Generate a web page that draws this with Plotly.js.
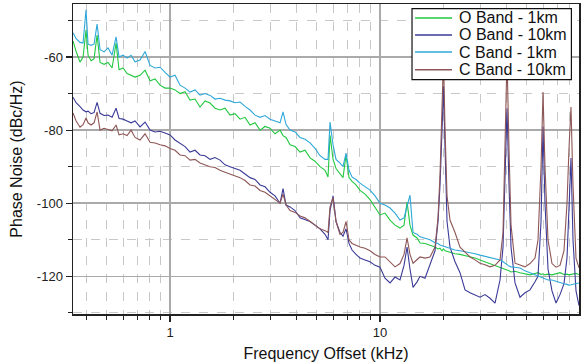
<!DOCTYPE html>
<html>
<head>
<meta charset="utf-8">
<script src="https://cdn.plot.ly/plotly-3.0.1.min.js"></script>
<style>html,body{margin:0;padding:0;background:#fff;}#chart{width:583px;height:362px;}</style>
</head>
<body>
<div id="chart"></div>
<script>
// Frequency offset (kHz)
const freqKHz = [
 0.345,0.357,0.3727,0.3852,0.398,0.4069,0.4206,0.4346,0.4493,0.4642,
 0.485,0.5068,0.5295,0.5533,0.5717,0.5974,0.6242,0.6522,0.6813,0.7197,
 0.7603,0.8032,0.8483,0.8962,0.9467,1,1.056,1.116,1.179,1.245,
 1.315,1.389,1.468,1.551,1.638,1.73,1.828,1.931,2.04,2.154,
 2.276,2.404,2.54,2.683,2.834,2.994,3.162,3.341,3.452,3.568,
 3.728,3.938,4.16,4.394,4.642,4.903,5.18,5.472,5.655,5.78,
 5.974,6.173,6.449,6.665,6.888,7.118,7.356,7.686,8.03,8.483,
 8.962,9.467,10,10.56,11.16,11.79,12.45,13.01,13.45,13.89,
 14.36,15.01,15.51,16.38,17.3,18.28,18.89,19.31,19.74,20.06,
 20.4,20.85,21.54,22.76,24.04,25.4,26.83,28.34,29.94,31.62,
 33.41,35.29,37.28,38.53,39.38,40.25,41.14,42.06,43.94,46.42,
 49.03,51.8,54.72,56.55,58.45,59.74,61.05,63.1,65.92,68.88,
 71.97,75.19,77.71,79.43,81.19,82.99,85.77,88.64
];

// Phase noise (dBc/Hz)
const oBand1km = [
 -55.6,-58.5,-61.4,-60,-52.6,-59.5,-61,-60.5,-54,-61.5,
 -62,-61.5,-63,-56.2,-63.5,-63,-64.5,-64.9,-65.5,-65,
 -63.6,-66.5,-66,-67.7,-68.5,-68.5,-69,-70,-69.5,-71.8,
 -71.5,-73.7,-72,-72.6,-74,-74.5,-74,-75.9,-75.5,-77,
 -76.5,-78.6,-78,-80,-79,-79.5,-81,-80,-81.5,-82,
 -84,-84.5,-86,-85.5,-87.6,-88.5,-90,-91,-92.8,-81.4,
 -88,-90.5,-92,-93,-86.8,-93,-94,-95,-96.5,-97.5,
 -99,-101,-103.2,-102.7,-104.6,-106,-106.8,-106,-99.7,-106,
 -108.7,-109.5,-110.9,-111,-111.4,-112,-112.5,-112.3,-113,-112.5,
 -113,-113.2,-113.4,-113.8,-114,-114.3,-114.7,-115,-115.5,-116,
 -116.4,-117,-117.4,-117.8,-118,-118.3,-118.5,-118.8,-118.6,-119,
 -119.3,-119.6,-119.2,-119,-119.5,-119.3,-119.6,-119.4,-119.6,-119.2,
 -119,-119.5,-119.4,-119.6,-119.5,-119.3,-119.2,-119.5
];
const oBand10km = [
 -71,-72.5,-73.6,-74.5,-75,-74.8,-75.5,-75.2,-72.4,-75.4,
 -76,-75.9,-76.5,-74,-76.8,-77,-77.5,-78,-77.5,-79.1,
 -77.8,-80,-80.5,-80.3,-80.8,-81.3,-82.7,-83.5,-84.5,-86,
 -85.5,-86.8,-87,-88,-87.5,-88.2,-89.5,-90,-90.5,-91,
 -92,-93,-93.5,-95,-95.5,-97,-98,-100,-96,-100.5,
 -101,-102,-104,-104.5,-105,-106,-107,-108.5,-110,-102,
 -98,-105,-108,-109,-107,-111,-112.8,-114,-115,-115.5,
 -116,-117,-117.5,-120.5,-121.8,-120.2,-121,-117,-112,-118,
 -123,-121.5,-120,-120.5,-117,-113,-105,-95,-80,-68,
 -85,-105,-112,-116,-119,-123.7,-124.5,-125,-125.7,-125,
 -126,-127.3,-121,-112,-95,-74,-95,-112,-121.8,-125.7,
 -124.5,-123.7,-121.5,-120,-105,-79,-100,-118,-124,-127.3,
 -125,-122,-115,-100,-87.6,-110,-124,-128
];
const cBand1km = [
 -53.4,-55,-56,-56.2,-47.1,-56.5,-56.8,-56.5,-51,-58,
 -58.6,-57.5,-59.5,-54.5,-60,-59.5,-60.3,-59.5,-61.3,-60.8,
 -58.5,-62.3,-63,-62.8,-64.2,-65.5,-65,-67.7,-68.5,-69.6,
 -69,-70.4,-70,-70.5,-71.5,-71.3,-71.8,-72,-72.5,-72.3,
 -73.5,-74.5,-75.9,-76.5,-76,-77,-77.5,-78,-75,-78.5,
 -80,-80.5,-82,-82.5,-83.5,-85,-87,-88,-88,-77.8,
 -84,-88,-89,-90,-86.3,-91,-92.8,-93.5,-94.5,-95.5,
 -96.4,-98,-100,-100.5,-101.3,-102.7,-104.6,-104,-101,-97.8,
 -108,-108.5,-109.2,-109.5,-110,-110.8,-111,-111.4,-111.6,-111.8,
 -112,-112,-112.3,-112.8,-113,-113.2,-113.4,-113.8,-114.2,-114.5,
 -114.8,-115.2,-115.5,-116,-116.5,-116.8,-117.2,-117.4,-117.5,-117.7,
 -118.5,-119,-119.5,-120,-120.2,-120.4,-120.6,-121,-121,-121.4,
 -121.8,-122,-122.2,-122.4,-122.3,-122.2,-121.9,-121.8
];
const cBand10km = [
 -75.3,-77.5,-79.2,-78.5,-76.7,-78,-78.6,-78,-75,-80,
 -79.5,-79.8,-80.2,-78.6,-81.3,-81,-81.5,-80,-82,-82.7,
 -81,-83.3,-83.5,-84,-84.3,-85,-85.5,-86.8,-87,-88.2,
 -88,-89,-89.5,-90,-90.2,-91,-91.5,-92,-92.3,-93,
 -93.8,-95,-95.3,-96.5,-97,-98,-99,-100,-97.5,-100.5,
 -102,-102.5,-103.5,-104,-105,-106,-107,-107.5,-108,-101,
 -98.5,-105,-108.5,-108,-105,-110,-111,-111.5,-112,-112.3,
 -113,-114,-114.7,-114.7,-116,-117.4,-116.5,-114,-109.5,-114,
 -116.4,-115.5,-114.7,-115,-114.7,-112,-104,-92,-75,-60,
 -80,-98,-104.6,-108,-112,-113.5,-114.7,-115.5,-116.4,-116.8,
 -117.4,-117,-115.5,-108,-85,-60,-85,-106,-116.4,-117,
 -117.4,-116.5,-115,-110,-90,-69.6,-90,-110,-116.5,-117.5,
 -117,-113,-100,-85,-73.7,-95,-115,-117.7
];

const seriesNames = ['O Band - 1km', 'O Band - 10km', 'C Band - 1km', 'C Band - 10km'];
const seriesValues = [oBand1km, oBand10km, cBand1km, cBand10km];
const xTickVals = [1, 10];
const xMinorVals = [0.4,0.5,0.6,0.7,0.8,0.9,2,3,4,5,6,7,8,9,20,30,40,50,60,70,80];
const yTickVals = [-120, -100, -80, -60];
const yMinorVals = [-130, -110, -90, -70, -50];

const colors = ['#22c840', '#3a3a98', '#2ea8d8', '#8e5656'];

const traces = seriesNames.map((name, i) => ({
  type: 'scatter', mode: 'lines', name: name,
  x: freqKHz, y: seriesValues[i],
  line: {color: colors[i], width: 1.1},
  showlegend: false, hoverinfo: 'skip'
}));

// manual legend (box, sample lines and labels) in paper coordinates
const shapes = [{
  type: 'rect', xref: 'paper', yref: 'paper',
  x0: 0.670, x1: 0.985, y0: 0.756, y1: 0.985,
  fillcolor: '#ffffff', line: {color: '#111', width: 1.2}, layer: 'above'
}];
const rowY = [0.955, 0.900, 0.845, 0.788];
const annotations = [];
seriesNames.forEach((name, i) => {
  shapes.push({type: 'line', xref: 'paper', yref: 'paper', x0: 0.676, x1: 0.749,
    y0: rowY[i], y1: rowY[i], line: {color: colors[i], width: 1.5}, layer: 'above'});
  annotations.push({xref: 'paper', yref: 'paper', x: 0.758, y: rowY[i],
    xanchor: 'left', yanchor: 'middle', showarrow: false, text: name,
    font: {family: 'Liberation Sans, Arial, sans-serif', size: 16, color: '#111'}});
});

const axisFont = {family: 'Liberation Sans, Arial, sans-serif', size: 13, color: '#222'};
const layout = {
  width: 583, height: 362,
  margin: {l: 73, r: 4, t: 4, b: 48},
  paper_bgcolor: '#fff', plot_bgcolor: '#fff',
  showlegend: false,
  xaxis: {
    type: 'log', range: [Math.log10(0.345), Math.log10(88.64)],
    tickmode: 'array', tickvals: xTickVals, ticktext: xTickVals.map(String),
    ticks: 'outside', ticklen: 6, tickwidth: 1.2, tickcolor: '#222',
    showline: true, linecolor: '#222', linewidth: 1.5, mirror: true,
    showgrid: true, gridcolor: '#aaaaaa', gridwidth: 1.5, zeroline: false,
    minor: {tickmode: 'array', tickvals: xMinorVals, ticks: 'outside', ticklen: 4,
      tickcolor: '#222', tickwidth: 1.2, showgrid: true, gridcolor: '#c8c8c8', griddash: 'dash', gridwidth: 1},
    tickfont: axisFont,
    title: {text: 'Frequency Offset (kHz)', font: {family: 'Liberation Sans, Arial, sans-serif', size: 16, color: '#111'}, standoff: 12}
  },
  yaxis: {
    range: [-130.3, -45.5],
    tickmode: 'array', tickvals: yTickVals, ticktext: yTickVals.map(String),
    ticks: 'outside', ticklen: 6, tickwidth: 1.2, tickcolor: '#222',
    showline: true, linecolor: '#222', linewidth: 1.5, mirror: true,
    showgrid: true, gridcolor: '#aaaaaa', gridwidth: 1.5, zeroline: false,
    minor: {tickmode: 'array', tickvals: yMinorVals, ticks: 'outside', ticklen: 4,
      tickcolor: '#222', tickwidth: 1.2, showgrid: true, gridcolor: '#c8c8c8', griddash: 'dash', gridwidth: 1},
    tickfont: axisFont,
    title: {text: 'Phase Noise (dBc/Hz)', font: {family: 'Liberation Sans, Arial, sans-serif', size: 16, color: '#111'}, standoff: 10}
  },
  shapes: shapes,
  annotations: annotations
};

Plotly.newPlot('chart', traces, layout, {staticPlot: true, displayModeBar: false});
</script>
</body>
</html>
